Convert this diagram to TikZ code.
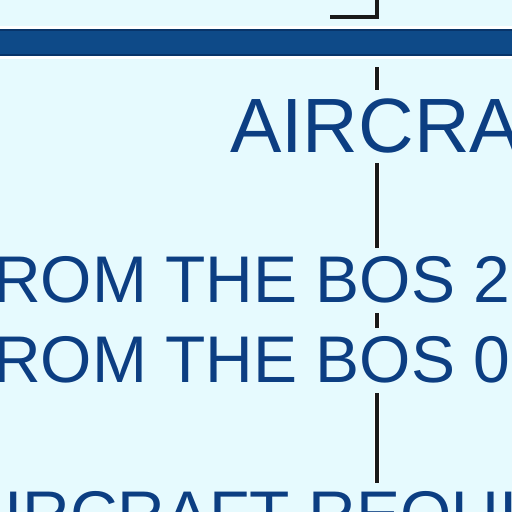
\documentclass[tikz,border=0pt]{standalone}
\usepackage{fontspec}
\setmainfont{Liberation Sans}
\usetikzlibrary{positioning}
\definecolor{chartbg}{RGB}{230,250,254}
\definecolor{chartblue}{RGB}{14,74,136}
\definecolor{bandedge}{RGB}{8,52,105}
\definecolor{inkblue}{RGB}{12,62,130}

\begin{document}
\begin{tikzpicture}[x=1pt, y=-1pt,
    big/.style={font=\fontsize{77}{80}\selectfont, text=inkblue, fill=chartbg, anchor=base west, inner xsep=0pt, inner ysep=8pt, text depth=3pt},
    small/.style={big, font=\fontsize{66}{70}\selectfont},
    leader/.style={line width=4pt, black!90}
]
\useasboundingbox (0,0) rectangle (512,512);
\clip (0,0) rectangle (512,512);
\fill[chartbg] (0,0) rectangle (512,512);

% bracket above the band
\coordinate (brk) at (330,17);
\draw[leader] (377,-5) |- (brk);

% airway band
\fill[white] (0,26) rectangle (512,59);
\fill[chartblue] (0,29) rectangle (512,56);
\draw[bandedge, line width=1.5pt] (0,30) -- (512,30) (0,55) -- (512,55);

% leader line, cut by the labels
\coordinate (top) at (377,67);
\coordinate (bot) at (377,483);
\draw[white, line width=6pt] (top) -- (bot);
\draw[leader] (top) -- (bot);

\node[big] (title) at (230,152) {AIRCRA};
\node[small] (fromA) at (-7,302) {ROM THE BOS 2};
\node[small] (fromB) at (-7,382) {ROM THE BOS 0};
\node[small] (req) at (4,537) {IRCRAFT REQUIR};
\end{tikzpicture}
\end{document}
